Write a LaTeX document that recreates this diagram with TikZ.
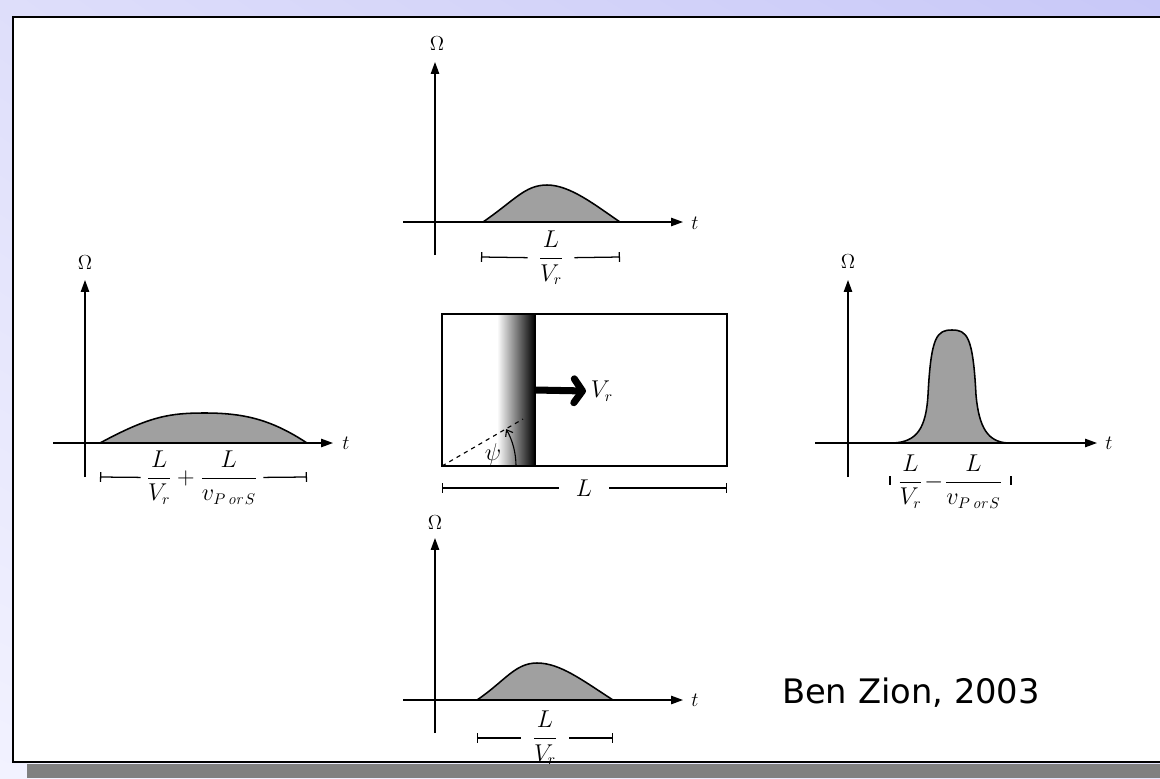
\documentclass[tikz,border=0pt]{standalone}
\usepackage{amsmath,amssymb}
\usepackage{fontspec}
\newfontfamily\sourcefont{DejaVu Sans}
\usepackage{tikz}
\usetikzlibrary{arrows.meta,calc,shadings}
\usepackage{xcolor}
\definecolor{lavhg}{RGB}{222,222,250}
\definecolor{lavhd}{RGB}{200,200,248}
\definecolor{lavbg}{RGB}{242,242,255}
\definecolor{lavbd}{RGB}{228,228,252}
\definecolor{gris}{RGB}{160,160,160}
\definecolor{ombre}{RGB}{128,128,128}

\begin{document}
\begin{tikzpicture}[x=0.025cm, y=-0.025cm,
    axe/.style={line width=0.9pt, -{Triangle[length=8.5pt,width=6pt]}},
    impulsion/.style={fill=gris, draw=black, line width=1.1pt},
    barre/.style={line width=0.9pt, {Bar[width=7pt]}-},
    fraction/.style={font=\fontsize{16}{19}\selectfont, inner ysep=0pt},
    omega/.style={font=\fontsize{15}{17}\selectfont},
    temps/.style={font=\fontsize{14}{16}\selectfont}]
    \useasboundingbox (0,0) rectangle (1160,778);

    % Fond et cadre
    \shade[upper left=lavhg, upper right=lavhd, lower left=lavbg, lower right=lavbd] (0,0) rectangle (1160,778);
    \fill[ombre] (27,764) rectangle (1160,778);
    \fill[white] (13,17) rectangle (1175,762);
    \draw[line width=1.6pt] (1175,17) -- (13,17) -- (13,762) -- (1175,762);

    % Graphe du haut
    \draw[impulsion] (483,222) .. controls (515,200) and (525,185) .. (547,185) .. controls (570,185) and (595,205) .. (620,222) -- cycle;
    \draw[axe] (435,255) -- (435,62);
    \draw[axe] (403,222) -- (683,222);
    \node[omega] (omH) at (437,44) {$\Omega$};
    \node[temps] (tH) at (695,223) {$t$};
    \coordinate (hg) at (481,257);
    \coordinate (hd) at (620,257);
    \node[fraction, inner xsep=7.5pt] (labH) at (551,258) {$\dfrac{L}{V_r}$};
    \draw[barre] (hg) -- (labH);
    \draw[barre] (hd) -- (labH);

    % Graphe de gauche
    \draw[impulsion] (100,443) .. controls (150,416) and (170,413) .. (205,413) .. controls (245,413) and (272,420) .. (307,443) -- cycle;
    \draw[axe] (85,477) -- (85,280);
    \draw[axe] (53,443) -- (333,443);
    \node[omega] (omG) at (85,263) {$\Omega$};
    \node[temps] (tG) at (346,443) {$t$};
    \coordinate (gg) at (100,477);
    \coordinate (gd) at (307,477);
    \node[fraction, inner xsep=4pt] (labG) at (202,478) {$\dfrac{L}{V_r}+\dfrac{L}{v_{P\,\mathit{or}\,S}}$};
    \draw[barre] (gg) -- (labG);
    \draw[barre] (gd) -- (labG);

    % Rupture au centre
    \shade[left color=white, middle color=black!55, right color=black] (497,314) rectangle (535,466);
    \draw[line width=1.5pt] (535,314) -- (535,466);
    \draw[line width=1.1pt] (442,314) rectangle (727,466);
    \coordinate (front) at (535,390);
    \node[fraction, anchor=west] (vr) at (586,391) {$V_r$};
    \draw[line width=5pt, -{Straight Barb[length=6pt,width=17pt,round]}] (front) -- (vr.west);
    \coordinate (coin) at (442,466);
    \coordinate (rayon) at (523,419);
    \draw[dashed, line width=0.8pt] (coin) -- (rayon);
    \draw[line width=0.8pt, -{Straight Barb[length=4pt,width=6pt]}] (516,466) arc[start angle=0, end angle=-30, radius=74];
    \node[fraction] (psi) at (493,454) {$\psi$};
    \coordinate (cg) at (442,488);
    \coordinate (cd) at (727,488);
    \node[fraction, inner xsep=12pt] (labC) at (584,488) {$L$};
    \draw[barre] (cg) -- (labC);
    \draw[barre] (cd) -- (labC);

    % Graphe de droite
    \draw[impulsion] (893,443) .. controls (917,442) and (926,428) .. (928,395) .. controls (931,336) and (937,330) .. (952,330) .. controls (967,330) and (973,336) .. (976,395) .. controls (979,428) and (988,442) .. (1008,443) -- cycle;
    \draw[axe] (848,477) -- (848,280);
    \draw[axe] (815,443) -- (1097,443);
    \node[omega] (omD) at (848,262) {$\Omega$};
    \node[temps] (tD) at (1109,443) {$t$};
    \node[fraction] (labD) at (950,482) {$\dfrac{L}{V_r}\!-\!\dfrac{L}{v_{P\,\mathit{or}\,S}}$};
    \draw[line width=0.9pt] (890,476) -- (890,485);
    \draw[line width=0.9pt] (1011,476) -- (1011,485);

    % Graphe du bas
    \draw[impulsion] (477,700) .. controls (505,681) and (515,663) .. (537,663) .. controls (560,663) and (582,680) .. (613,700) -- cycle;
    \draw[axe] (435,733) -- (435,538);
    \draw[axe] (403,700) -- (683,700);
    \node[omega] (omB) at (435,523) {$\Omega$};
    \node[temps] (tB) at (695,700) {$t$};
    \coordinate (bg) at (477,738);
    \coordinate (bd) at (613,738);
    \node[fraction, inner xsep=8pt] (labB) at (545,738) {$\dfrac{L}{V_r}$};
    \draw[barre] (bg) -- (labB);
    \draw[barre] (bd) -- (labB);

    % Source
    \node[font=\sourcefont\fontsize{24}{28}\selectfont, anchor=base] (source) at (911,703) {Ben Zion, 2003};
\end{tikzpicture}
\end{document}
